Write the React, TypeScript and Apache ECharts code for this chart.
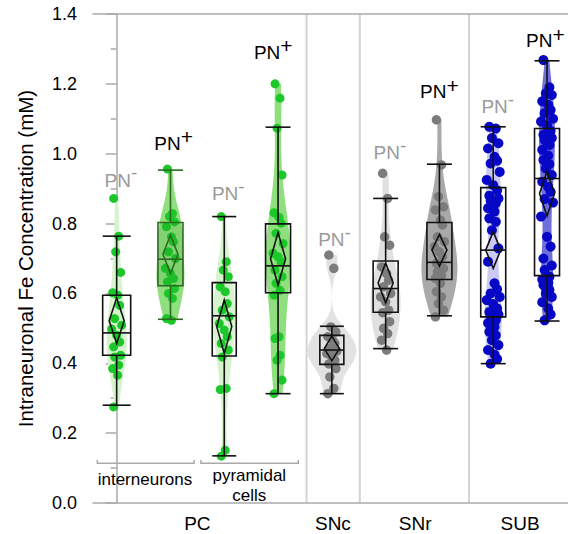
import React, { useEffect, useRef } from "react";
import * as echarts from "echarts";

// ---------------- DATA ----------------
const groupNames = [
  "PC interneurons PN-",
  "PC interneurons PN+",
  "PC pyramidal PN-",
  "PC pyramidal PN+",
  "SNc PN-",
  "SNr PN-",
  "SNr PN+",
  "SUB PN-",
  "SUB PN+",
];
const groupSign = ["-", "+", "-", "+", "-", "-", "+", "-", "+"];
const regionNames = ["PC", "SNc", "SNr", "SUB"];
const cellTypeNames = ["interneurons", "pyramidal\ncells"];
const yAxisTitle = "Intraneuronal Fe Concentration (mM)";

const pcInterneuronsNeg = [0.872, 0.764, 0.719, 0.66, 0.602, 0.595, 0.566, 0.528, 0.509, 0.498, 0.48, 0.461, 0.447, 0.423, 0.418, 0.395, 0.385, 0.366, 0.275];
const pcInterneuronsPos = [0.956, 0.829, 0.82, 0.805, 0.791, 0.762, 0.748, 0.719, 0.7, 0.672, 0.657, 0.643, 0.633, 0.614, 0.6, 0.586, 0.528, 0.523];
const pcPyramidalNeg = [0.82, 0.691, 0.667, 0.648, 0.619, 0.605, 0.571, 0.552, 0.533, 0.514, 0.495, 0.476, 0.457, 0.438, 0.418, 0.328, 0.325, 0.151, 0.134];
const pcPyramidalPos = [1.2, 1.159, 1.073, 0.939, 0.831, 0.818, 0.801, 0.772, 0.743, 0.715, 0.705, 0.691, 0.667, 0.648, 0.629, 0.609, 0.595, 0.476, 0.471, 0.423, 0.409, 0.352, 0.313];
const sncNeg = [0.71, 0.672, 0.504, 0.49, 0.476, 0.465, 0.457, 0.442, 0.435, 0.428, 0.418, 0.409, 0.398, 0.385, 0.361, 0.328, 0.313];
const snrNeg = [0.944, 0.872, 0.762, 0.738, 0.676, 0.657, 0.638, 0.619, 0.6, 0.59, 0.576, 0.552, 0.545, 0.519, 0.5, 0.485, 0.466, 0.438];
const snrPos = [1.097, 0.968, 0.877, 0.848, 0.839, 0.81, 0.796, 0.762, 0.748, 0.734, 0.719, 0.705, 0.686, 0.672, 0.662, 0.652, 0.643, 0.629, 0.605, 0.59, 0.571, 0.552, 0.533];
const subNeg = [
  1.077, 1.072, 1.045, 1.03, 1.015, 0.991, 0.98, 0.972, 0.948, 0.925, 0.91,
  0.895, 0.88, 0.872, 0.865, 0.858, 0.844, 0.834, 0.815, 0.805, 0.781, 0.729,
  0.691, 0.629, 0.612, 0.6, 0.59, 0.581, 0.57, 0.557, 0.547, 0.54, 0.535,
  0.523, 0.515, 0.504, 0.49, 0.48, 0.466, 0.452, 0.438, 0.425, 0.412, 0.399,
];
const subPos = [
  1.268, 1.19, 1.173, 1.168, 1.15, 1.14, 1.125, 1.116, 1.1, 1.092, 1.08,
  1.065, 1.054, 1.045, 1.039, 1.025, 1.011, 0.995, 0.982, 0.97, 0.958, 0.939,
  0.92, 0.905, 0.891, 0.87, 0.86, 0.82, 0.762, 0.734, 0.7, 0.68, 0.667,
  0.648, 0.64, 0.63, 0.624, 0.61, 0.6, 0.59, 0.575, 0.557, 0.54, 0.523,
];
const allGroups = [pcInterneuronsNeg, pcInterneuronsPos, pcPyramidalNeg, pcPyramidalPos, sncNeg, snrNeg, snrPos, subNeg, subPos];

// [lower whisker, Q1, median, Q3, upper whisker]
const boxStats = [
  [0.28, 0.423, 0.487, 0.595, 0.764],
  [0.526, 0.622, 0.698, 0.803, 0.953],
  [0.135, 0.421, 0.536, 0.631, 0.82],
  [0.313, 0.602, 0.679, 0.799, 1.076],
  [0.313, 0.397, 0.438, 0.48, 0.506],
  [0.442, 0.546, 0.614, 0.693, 0.872],
  [0.536, 0.64, 0.689, 0.803, 0.97],
  [0.399, 0.533, 0.724, 0.903, 1.077],
  [0.521, 0.651, 0.929, 1.072, 1.266],
];
// [CI low, mean, CI high]
const meanCI = [
  [0.457, 0.522, 0.587],
  [0.657, 0.712, 0.767],
  [0.428, 0.505, 0.581],
  [0.624, 0.699, 0.774],
  [0.407, 0.442, 0.478],
  [0.573, 0.63, 0.688],
  [0.678, 0.724, 0.769],
  [0.672, 0.724, 0.777],
  [0.822, 0.886, 0.95],
];

// ---------------- LAYOUT / STYLE ----------------
const FONT = "'Liberation Sans', Arial, Helvetica, sans-serif";
const X_MIN = -0.44;
const X_MAX = 8.39;
const separatorsX = [3.53, 4.52, 6.55];
const labelLevels = [0.924, 1.03, 0.885, 1.291, 0.753, 1.003, 1.177, 1.135, 1.323];
const labelDx = [0.08, 0.06, 0.075, -0.09, 0.05, 0.08, 0.0, 0.085, -0.03];
const regionLabelX = [1.5, 4.02, 5.55, 7.5];
const regionLabelY = -0.058;
const cellTypeX = [0.526, 2.465];
const cellTypeY = [0.068, 0.051];
const bracketRanges = [
  [-0.36, 1.44],
  [1.567, 3.375],
];
const bracketY = 0.114;
const bracketTickY = 0.123;

const pointColors = ["#1cc72a", "#1cc72a", "#1cc72a", "#1cc72a", "#7c7c7c", "#7c7c7c", "#7c7c7c", "#0707c6", "#0707c6"];
const pointSizes = [9, 9, 9, 9, 9.5, 9.5, 9.5, 10, 10];
const violinColors = ["#d6f3cd", "#8fdf7e", "#d6f3cd", "#8fdf7e", "#e2e2e2", "#e0e0e0", "#a9a9a9", "#cacaf3", "#7070da"];
const violinHalfWidth = [10, 14, 11, 12.5, 24.5, 15, 18, 8.5, 8];
const boxColors = ["#111", "#2c6a22", "#111", "#111", "#111", "#111", "#111", "#111", "#111"];
const boxFill = ["none", "rgba(40,120,30,0.12)", "none", "none", "none", "none", "none", "none", "none"];
const boxWidth = [28, 25, 24, 25, 24, 25, 25, 25, 25];
const diamondHalf = 7.5;
const jitterPx = [-3, 2, -1, 4, -4, 1, 3, -2, 5, -5, 0, 3, -3, 4, -2, 2, -4, 1];
const jitterScale = [1, 1, 1, 1, 1, 1, 1, 1.3, 1.2];
const PX_PER_UNIT = 53.8;

function kde(values: number[], bwScale: number): number[][] {
  const n = values.length;
  const mean = values.reduce((a, b) => a + b, 0) / n;
  const sd = Math.sqrt(values.reduce((a, b) => a + (b - mean) * (b - mean), 0) / (n - 1));
  const s = [...values].sort((a, b) => a - b);
  const q = (p: number) => {
    const i = (n - 1) * p;
    const lo = Math.floor(i);
    const hi = Math.min(lo + 1, n - 1);
    return s[lo] + (s[hi] - s[lo]) * (i - lo);
  };
  const iqr = q(0.75) - q(0.25);
  const h = 0.9 * Math.min(sd, iqr / 1.34) * Math.pow(n, -0.2) * bwScale;
  const lo = s[0];
  const hi = s[n - 1];
  const out: number[][] = [];
  const steps = 80;
  for (let i = 0; i <= steps; i++) {
    const y = lo + ((hi - lo) * i) / steps;
    let d = 0;
    for (const v of values) {
      const z = (y - v) / h;
      d += Math.exp(-0.5 * z * z);
    }
    out.push([y, d]);
  }
  return out;
}

export default function App() {
  const ref = useRef<HTMLDivElement>(null);
  useEffect(() => {
    if (!ref.current) return;
    const chart = echarts.init(ref.current, undefined, { renderer: "svg" });
    const densities = allGroups.map((g) => kde(g, 1.0));

    const scatterSeries = allGroups.map((g, i) => ({
      type: "scatter",
      name: groupNames[i],
      z: 3,
      clip: false,
      symbolSize: pointSizes[i],
      itemStyle: { color: pointColors[i], opacity: 1 },
      data: g.map((v, k) => [i + (jitterPx[k % jitterPx.length] * jitterScale[i]) / PX_PER_UNIT, v]),
      silent: true,
    }));

    const option: any = {
      animation: false,
      grid: { left: 93, right: 0, top: 14, bottom: 31 },
      xAxis: [
        {
          type: "value",
          min: X_MIN,
          max: X_MAX,
          position: "bottom",
          axisLine: { show: true, onZero: false, lineStyle: { color: "#aaaaaa", width: 1.5 } },
          axisTick: { show: false },
          axisLabel: { show: false },
          splitLine: { show: false },
        },
        {
          type: "value",
          min: X_MIN,
          max: X_MAX,
          position: "top",
          axisLine: { show: true, onZero: false, lineStyle: { color: "#aaaaaa", width: 1.5 } },
          axisTick: { show: false },
          axisLabel: { show: false },
          splitLine: { show: false },
        },
      ],
      yAxis: {
        type: "value",
        min: 0,
        max: 1.4,
        interval: 0.2,
        name: yAxisTitle,
        nameLocation: "middle",
        nameGap: 57,
        nameTextStyle: { fontSize: 20.5, color: "#000", fontFamily: FONT },
        axisLine: { show: true, lineStyle: { color: "#aaaaaa", width: 1.5 } },
        axisTick: { show: true, length: 11, lineStyle: { color: "#aaaaaa", width: 1.5 } },
        minorTick: { show: true, splitNumber: 2, length: 6, lineStyle: { color: "#aaaaaa", width: 1.5 } },
        axisLabel: {
          fontSize: 18,
          color: "#000",
          fontFamily: FONT,
          margin: 16,
          formatter: (v: number) => v.toFixed(1),
        },
        splitLine: { show: false },
      },
      series: [
        {
          type: "custom",
          name: "separators",
          z: 0,
          silent: true,
          data: separatorsX.map((x) => [x, 0]),
          renderItem: (params: any, api: any) => {
            const x = separatorsX[params.dataIndex];
            const p0 = api.coord([x, 0]);
            const p1 = api.coord([x, 1.4]);
            return {
              type: "line",
              shape: { x1: p0[0], y1: p0[1], x2: p1[0], y2: p1[1] },
              style: { stroke: "#d4d4d4", lineWidth: 2 },
            };
          },
        },
        {
          type: "custom",
          name: "violins",
          z: 1,
          silent: true,
          data: allGroups.map((_, i) => [i, 0]),
          renderItem: (params: any, api: any) => {
            const i = params.dataIndex;
            const dens = densities[i];
            const maxD = Math.max(...dens.map((d) => d[1]));
            const hw = violinHalfWidth[i];
            const right = dens.map(([v, d]) => {
              const p = api.coord([i, v]);
              return [p[0] + (d / maxD) * hw, p[1]];
            });
            const left = dens
              .slice()
              .reverse()
              .map(([v, d]) => {
                const p = api.coord([i, v]);
                return [p[0] - (d / maxD) * hw, p[1]];
              });
            return {
              type: "polygon",
              shape: { points: right.concat(left), smooth: 0 },
              style: { fill: violinColors[i], stroke: "none" },
            };
          },
        },
        ...scatterSeries,
        {
          type: "custom",
          name: "boxes",
          z: 5,
          silent: true,
          data: allGroups.map((_, i) => [i, 0]),
          renderItem: (params: any, api: any) => {
            const i = params.dataIndex;
            const [lo, q1, med, q3, hi] = boxStats[i];
            const [mLo, m, mHi] = meanCI[i];
            const x = api.coord([i, 0])[0];
            const Y = (v: number) => api.coord([i, v])[1];
            const bw = boxWidth[i] / 2;
            const col = boxColors[i];
            const ls = { stroke: col, lineWidth: 1.6 };
            const line = (x1: number, y1: number, x2: number, y2: number) => ({
              type: "line",
              shape: { x1, y1, x2, y2 },
              style: { ...ls, fill: "none" },
            });
            return {
              type: "group",
              children: [
                {
                  type: "rect",
                  shape: { x: x - bw, y: Y(q3), width: 2 * bw, height: Y(q1) - Y(q3) },
                  style: { ...ls, fill: boxFill[i] },
                },
                line(x - bw, Y(med), x + bw, Y(med)),
                line(x, Y(q3), x, Y(hi)),
                line(x, Y(q1), x, Y(lo)),
                line(x - bw, Y(hi), x + bw, Y(hi)),
                line(x - bw, Y(lo), x + bw, Y(lo)),
                {
                  type: "polygon",
                  shape: {
                    points: [
                      [x, Y(mHi)],
                      [x + diamondHalf, Y(m)],
                      [x, Y(mLo)],
                      [x - diamondHalf, Y(m)],
                    ],
                  },
                  style: { ...ls, fill: "none" },
                },
              ],
            };
          },
        },
        {
          type: "custom",
          name: "pnLabels",
          z: 6,
          silent: true,
          data: allGroups.map((_, i) => [i, 0]),
          renderItem: (params: any, api: any) => {
            const i = params.dataIndex;
            const p = api.coord([i + labelDx[i], labelLevels[i]]);
            const plus = groupSign[i] === "+";
            const col = plus ? "#000" : "#9a9a9a";
            return {
              type: "text",
              x: p[0],
              y: p[1],
              style: {
                text: plus ? "{n|PN}{p|+}" : "{n|PN}{m|-}",
                align: "center",
                verticalAlign: "middle",
                rich: {
                  n: { fontSize: 19, fontFamily: FONT, fill: col, lineHeight: 34 },
                  p: { fontSize: 21, fontFamily: FONT, fill: col, lineHeight: 20, verticalAlign: "top" },
                  m: { fontSize: 19, fontFamily: FONT, fill: col, lineHeight: 20, verticalAlign: "top" },
                },
              },
            };
          },
        },
        {
          type: "custom",
          name: "regionLabels",
          z: 6,
          silent: true,
          data: regionNames.map((_, i) => [regionLabelX[i], regionLabelY]),
          renderItem: (params: any, api: any) => {
            const i = params.dataIndex;
            const p = api.coord([regionLabelX[i], regionLabelY]);
            return {
              type: "text",
              x: p[0],
              y: p[1],
              style: {
                text: regionNames[i],
                fontSize: 19,
                fontFamily: FONT,
                fill: "#000",
                align: "center",
                verticalAlign: "middle",
              },
            };
          },
        },
        {
          type: "custom",
          name: "cellTypes",
          z: 6,
          silent: true,
          data: cellTypeNames.map((_, i) => [cellTypeX[i], cellTypeY[i]]),
          renderItem: (params: any, api: any) => {
            const i = params.dataIndex;
            const p = api.coord([cellTypeX[i], cellTypeY[i]]);
            const [b0, b1] = bracketRanges[i];
            const l = api.coord([b0, bracketY]);
            const r = api.coord([b1, bracketY]);
            const t = api.coord([b0, bracketTickY]);
            return {
              type: "group",
              children: [
                {
                  type: "polyline",
                  shape: {
                    points: [
                      [l[0], t[1]],
                      [l[0], l[1]],
                      [r[0], r[1]],
                      [r[0], t[1]],
                    ],
                  },
                  style: { stroke: "#aaaaaa", lineWidth: 1.5, fill: "none" },
                },
                {
                  type: "text",
                  x: p[0],
                  y: p[1],
                  style: {
                    text: cellTypeNames[i],
                    fontSize: 17,
                    lineHeight: 20,
                    fontFamily: FONT,
                    fill: "#000",
                    align: "center",
                    verticalAlign: "middle",
                  },
                },
              ],
            };
          },
        },
      ],
    };
    chart.setOption(option);
    return () => chart.dispose();
  }, []);
  return (
    <div
      ref={ref}
      style={{ position: "fixed", left: 0, top: 0, width: 568, height: 534, background: "#fff" }}
    />
  );
}
